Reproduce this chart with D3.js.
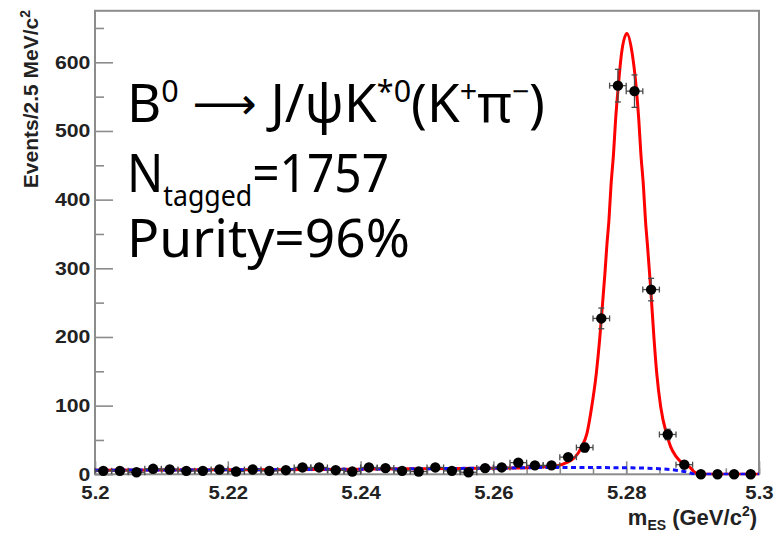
<!DOCTYPE html>
<html>
<head>
<meta charset="utf-8">
<script src="https://cdn.jsdelivr.net/npm/d3@7"></script>
<style>
  body { margin: 0; background: #fff; }
  svg { display: block; }
</style>
</head>
<body>
<svg id="chart" width="775" height="537"></svg>
<script>
// histogram: m_ES, 2.5 MeV bins from 5.20 to 5.30
const binStart = 5.2;
const binWidth = 0.0025;
const counts = [5, 5, 3, 8, 7, 5, 5, 7, 4, 7,
                5, 6, 10, 10, 6, 4, 10, 9, 5, 4,
                10, 5, 3, 9, 10, 17, 13, 13, 25, 39,
                227, 566, 558, 269, 58, 14, 0, 0, 0, 0];

// total fit (signal + background)
const fitX = [5.200, 5.220, 5.240, 5.255, 5.265, 5.2695, 5.2710, 5.2723, 5.2733, 5.2741,
              5.2748, 5.2755, 5.2760, 5.2764, 5.2768, 5.2771, 5.2774, 5.2777, 5.2781, 5.2784,
              5.2788, 5.2793, 5.2801, 5.2809, 5.2815, 5.2819, 5.2822, 5.2826, 5.2829, 5.2832,
              5.2837, 5.2842, 5.2846, 5.2852, 5.2861, 5.2867, 5.2875, 5.2886, 5.2896, 5.2902,
              5.2907, 5.2912, 5.300];
const fitY = [6, 6.5, 7.5, 8.5, 9.5, 12, 17, 25, 40, 60,
              98, 147, 196, 244, 293, 335, 370, 419, 468, 516,
              564, 613, 642, 613, 564, 516, 468, 419, 370, 334,
              269, 196, 147, 98, 58, 40, 26, 15, 10, 4,
              1, 0, 0];

// background (ARGUS), blue dashed
const bkgX = [5.200, 5.220, 5.240, 5.260, 5.270, 5.280, 5.285, 5.2875, 5.2893, 5.2905, 5.300];
const bkgY = [6, 6.5, 7.5, 9, 10, 9.5, 8, 6, 3, 0, 0];

const xTicks = [5.2, 5.22, 5.24, 5.26, 5.28, 5.3];
const xTickLabels = ['5.2', '5.22', '5.24', '5.26', '5.28', '5.3'];
const xMinor = d3.range(5.2, 5.3001, 0.005);
const yTicks = [0, 100, 200, 300, 400, 500, 600];
const yMinor = [50, 150, 250, 350, 450, 550, 650];

const svg = d3.select('#chart');
const frame = {left: 95, right: 759, top: 10.8, bottom: 474.3};

const x = d3.scaleLinear().domain([5.2, 5.3]).range([frame.left, frame.right]);
const y = d3.scaleLinear().domain([0, 675]).range([frame.bottom, frame.top]);

const axisColor = '#8c8c8c';
const labelFont = '"Liberation Sans", Arial, Helvetica, sans-serif';

svg.append('rect')
  .attr('width', 775).attr('height', 537).attr('fill', '#fff');

svg.append('defs').append('clipPath')
    .attr('id', 'clip')
  .append('rect')
    .attr('x', frame.left).attr('y', frame.top - 2)
    .attr('width', frame.right - frame.left)
    .attr('height', frame.bottom - frame.top + 3);

// frame
svg.append('rect')
  .attr('x', frame.left).attr('y', frame.top)
  .attr('width', frame.right - frame.left)
  .attr('height', frame.bottom - frame.top)
  .attr('fill', 'none')
  .attr('stroke', axisColor)
  .attr('stroke-width', 2);

// y axis
const gy = svg.append('g').attr('transform', `translate(${frame.left},0)`);
gy.append('g')
  .call(d3.axisLeft(y).tickValues(yMinor).tickSize(-9).tickFormat(''));
gy.append('g')
  .call(d3.axisLeft(y).tickValues(yTicks).tickSize(-18).tickPadding(4));
gy.selectAll('.domain').remove();
gy.selectAll('line').attr('stroke', axisColor).attr('stroke-width', 1.6);
gy.selectAll('text')
  .attr('font-family', labelFont)
  .attr('font-weight', 'bold')
  .attr('font-size', 18)
  .attr('fill', '#222')
  .attr('transform', 'scale(1.18,1)');

// x axis
const gx = svg.append('g').attr('transform', `translate(0,${frame.bottom})`);
gx.append('g')
  .call(d3.axisBottom(x).tickValues(xMinor).tickSize(-6).tickFormat(''));
gx.append('g')
  .call(d3.axisBottom(x).tickValues(xTicks).tickSize(-13).tickPadding(12)
    .tickFormat((d, i) => xTickLabels[i]));
gx.selectAll('.domain').remove();
gx.selectAll('line').attr('stroke', axisColor).attr('stroke-width', 1.6);
gx.selectAll('text')
  .attr('font-family', labelFont)
  .attr('font-weight', 'bold')
  .attr('font-size', 18)
  .attr('fill', '#222')
  .attr('transform', 'scale(1.13,1)');

// axis titles
const yTitle = svg.append('text')
  .attr('transform', 'translate(38,10) rotate(-90)')
  .attr('text-anchor', 'end')
  .attr('font-family', labelFont)
  .attr('font-weight', 'bold')
  .attr('font-size', 21)
  .attr('fill', '#222');
yTitle.append('tspan').text('Events/2.5 MeV/c');
yTitle.append('tspan').attr('dy', -8).attr('font-size', 14).text('2');

const xTitle = svg.append('text')
  .attr('transform', 'translate(757,525)')
  .attr('text-anchor', 'end')
  .attr('font-family', labelFont)
  .attr('font-weight', 'bold')
  .attr('font-size', 22)
  .attr('fill', '#222');
xTitle.append('tspan').text('m');
xTitle.append('tspan').attr('dy', 5).attr('font-size', 14).text('ES');
xTitle.append('tspan').attr('dy', -5).text(' (GeV/c');
xTitle.append('tspan').attr('dy', -9).attr('font-size', 14).text('2');
xTitle.append('tspan').attr('dy', 9).text(')');

// curves
const plot = svg.append('g').attr('clip-path', 'url(#clip)');

const fitLine = d3.line()
  .x(d => x(d[0]))
  .y(d => y(d[1]))
  .curve(d3.curveMonotoneX);

plot.append('path')
  .datum(d3.zip(fitX, fitY))
  .attr('d', fitLine)
  .attr('fill', 'none')
  .attr('stroke', '#ff0000')
  .attr('stroke-width', 3);

plot.append('path')
  .datum(d3.zip(bkgX, bkgY))
  .attr('d', fitLine)
  .attr('fill', 'none')
  .attr('stroke', '#1010ff')
  .attr('stroke-width', 3)
  .attr('stroke-dasharray', '5,3.5');

// data points with error bars
const points = counts.map((c, i) => ({
  m: binStart + (i + 0.5) * binWidth,
  lo: binStart + i * binWidth,
  hi: binStart + (i + 1) * binWidth,
  n: c,
  err: Math.sqrt(c)
}));

const errColor = '#4a4a4a';
const cap = 3;
const pts = svg.append('g');
const withErr = points.filter(d => d.n > 0);

pts.selectAll('line.h').data(withErr).join('line')
  .attr('x1', d => x(d.lo)).attr('x2', d => x(d.hi))
  .attr('y1', d => y(d.n)).attr('y2', d => y(d.n));
pts.selectAll('line.hc1').data(withErr).join('line')
  .attr('x1', d => x(d.lo)).attr('x2', d => x(d.lo))
  .attr('y1', d => y(d.n) - cap).attr('y2', d => y(d.n) + cap);
pts.selectAll('line.hc2').data(withErr).join('line')
  .attr('x1', d => x(d.hi)).attr('x2', d => x(d.hi))
  .attr('y1', d => y(d.n) - cap).attr('y2', d => y(d.n) + cap);
pts.selectAll('line.v').data(withErr).join('line')
  .attr('x1', d => x(d.m)).attr('x2', d => x(d.m))
  .attr('y1', d => y(d.n + d.err)).attr('y2', d => y(d.n - d.err));
pts.selectAll('line.vc1').data(withErr).join('line')
  .attr('x1', d => x(d.m) - cap).attr('x2', d => x(d.m) + cap)
  .attr('y1', d => y(d.n + d.err)).attr('y2', d => y(d.n + d.err));
pts.selectAll('line.vc2').data(withErr).join('line')
  .attr('x1', d => x(d.m) - cap).attr('x2', d => x(d.m) + cap)
  .attr('y1', d => y(d.n - d.err)).attr('y2', d => y(d.n - d.err));
pts.selectAll('line')
  .attr('stroke', errColor)
  .attr('stroke-width', 1.3);

pts.selectAll('circle').data(points).join('circle')
  .attr('cx', d => x(d.m))
  .attr('cy', d => y(d.n))
  .attr('r', 5.2)
  .attr('fill', '#000');

// legend text
const legendFont = '"Noto Sans", "Open Sans", sans-serif';
const legend = svg.append('g')
  .attr('font-family', legendFont)
  .attr('font-size', 52)
  .attr('fill', '#000');

const l1 = legend.append('text').attr('x', 127).attr('y', 122)
  .attr('textLength', 418).attr('lengthAdjust', 'spacingAndGlyphs');
l1.append('tspan').text('B');
l1.append('tspan').attr('dy', -20).attr('font-size', 30).text('0');
l1.append('tspan').attr('dy', 20).text(' ');
l1.append('tspan').attr('dy', -3).attr('font-family', '"DejaVu Sans"').attr('font-size', 44).text('\u27F6');
l1.append('tspan').attr('dy', 3).text(' J/\u03C8K');
l1.append('tspan').attr('dy', -20).attr('font-size', 30).text('*0');
l1.append('tspan').attr('dy', 20).text('(K');
l1.append('tspan').attr('dy', -20).attr('font-size', 30).text('+');
l1.append('tspan').attr('dy', 20).text('\u03C0');
l1.append('tspan').attr('dy', -20).attr('font-size', 30).text('\u2212');
l1.append('tspan').attr('dy', 20).text(')');

const l2 = legend.append('text').attr('x', 127).attr('y', 192)
  .attr('textLength', 262).attr('lengthAdjust', 'spacingAndGlyphs');
l2.append('tspan').text('N');
l2.append('tspan').attr('dy', 14).attr('font-size', 29).text('tagged');
l2.append('tspan').attr('dy', -14).text('=1757');

legend.append('text').attr('x', 127).attr('y', 257)
  .attr('textLength', 283).attr('lengthAdjust', 'spacingAndGlyphs')
  .text('Purity=96%');
</script>
</body>
</html>
